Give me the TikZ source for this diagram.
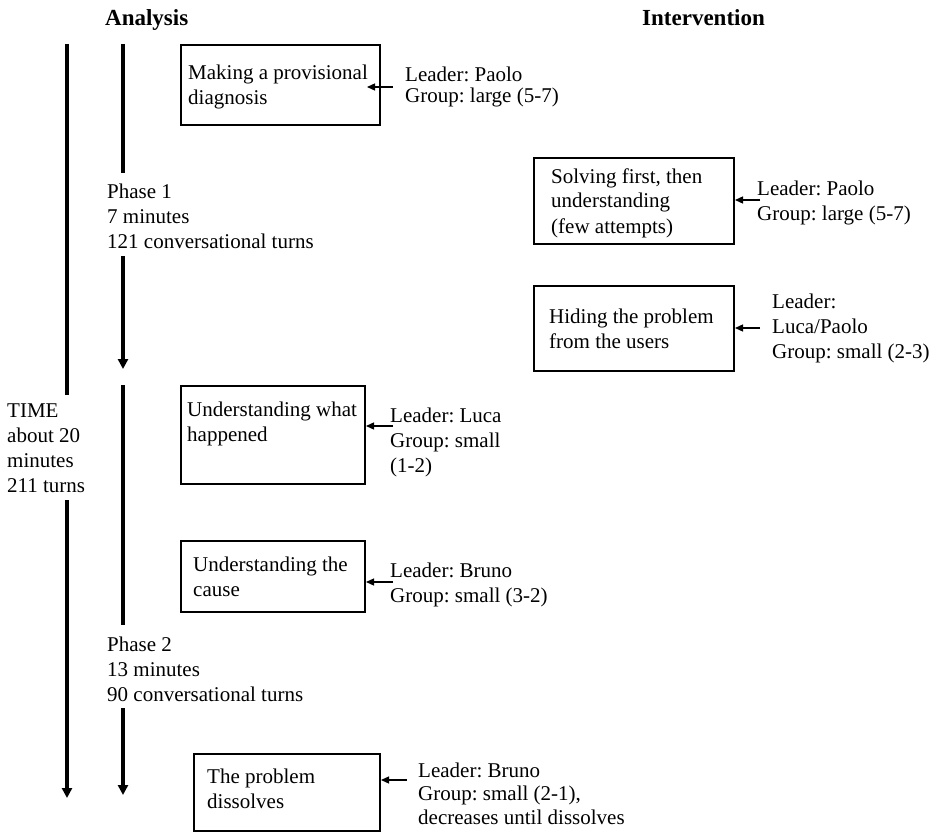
\documentclass[tikz,border=0pt]{standalone}
\usepackage{fontspec}
\setmainfont{Liberation Serif}
\usetikzlibrary{arrows.meta}
\frenchspacing
\begin{document}
\begin{tikzpicture}[x=1pt,y=-1pt,
  txt/.style={inner sep=0pt, align=left, anchor=base west, font=\fontsize{21}{25}\selectfont},
  head/.style={inner sep=0pt, anchor=base west, font=\fontsize{23}{27}\selectfont\bfseries},
  box/.style={draw, line width=2pt, inner sep=0pt, anchor=north west},
  vline/.style={line width=3.3pt},
  varrow/.style={line width=3.3pt, -{Triangle[length=10pt,width=10pt]}},
  harrow/.style={line width=1.3pt, -{Triangle[length=8pt,width=7pt]}}]
\useasboundingbox (0,0) rectangle (937,832);

% headings
\node[head] (ana) at (105,26) {Analysis};
\node[head] (int) at (642,26) {Intervention};

% boxes
\node[box, minimum width=199pt, minimum height=80pt] (b1) at (180,44) {};
\node[box, minimum width=200pt, minimum height=86pt] (b2) at (533,157) {};
\node[box, minimum width=200pt, minimum height=85pt] (b3) at (533,285) {};
\node[box, minimum width=184pt, minimum height=98pt] (b4) at (180,385) {};
\node[box, minimum width=184pt, minimum height=71pt] (b5) at (180,540) {};
\node[box, minimum width=186pt, minimum height=77pt] (b6) at (193,753) {};

% box texts (anchor = baseline of last line)
\node[txt] (t1) at (188,105) {Making a provisional\\diagnosis};
\node[txt] (t2) at (551,233) {Solving first, then\\understanding\\(few attempts)};
\node[txt] (t3) at (549,348) {Hiding the problem\\from the users};
\node[txt] (t4) at (187,441) {Understanding what\\happened};
\node[txt] (t5) at (193,596) {Understanding the\\cause};
\node[txt] (t6) at (207,808) {The problem\\dissolves};

% leader labels
\node[txt, font=\fontsize{21}{21}\selectfont] (l1) at (405,103) {Leader: Paolo\\Group: large (5-7)};
\node[txt] (l2) at (757,220) {Leader: Paolo\\Group: large (5-7)};
\node[txt] (l3) at (772,358) {Leader:\\Luca/Paolo\\Group: small (2-3)};
\node[txt] (l4) at (390,472) {Leader: Luca\\Group: small\\(1-2)};
\node[txt] (l5) at (390,602) {Leader: Bruno\\Group: small (3-2)};
\node[txt, font=\fontsize{21}{23.5}\selectfont] (l6) at (418,824) {Leader: Bruno\\Group: small (2-1),\\decreases until dissolves};

% phase and time texts
\node[txt] (ph1) at (107,248) {Phase 1\\7 minutes\\121 conversational turns};
\node[txt] (ph2) at (107,701) {Phase 2\\13 minutes\\90 conversational turns};
\node[txt] (time) at (7,492) {TIME\\about 20\\minutes\\211 turns};

% horizontal arrows
\coordinate (s1) at (393,87);
\coordinate (s2) at (760,200);
\coordinate (s3) at (760,328);
\coordinate (s4) at (393,426);
\coordinate (s5) at (393,582);
\coordinate (s6) at (407,780);
\draw[harrow] (s1) -- ([xshift=-14pt]b1.east |- s1);
\draw[harrow] (s2) -- (b2.east |- s2);
\draw[harrow] (s3) -- (b3.east |- s3);
\draw[harrow] (s4) -- (b4.east |- s4);
\draw[harrow] (s5) -- (b5.east |- s5);
\draw[harrow] (s6) -- (b6.east |- s6);

% time line (left)
\coordinate (ta) at (67,44);
\coordinate (tb) at (67,395);
\coordinate (tc) at (67,500);
\coordinate (td) at (67,798);
\draw[vline] (ta) -- (tb);
\draw[varrow] (tc) -- (td);

% analysis line
\coordinate (pa) at (123,44);
\coordinate (pb) at (123,173);
\coordinate (pc) at (123,256);
\coordinate (pd) at (123,369);
\coordinate (pe) at (123,385);
\coordinate (pf) at (123,625);
\coordinate (pg) at (123,708);
\coordinate (ph) at (123,795);
\draw[vline] (pa) -- (pb);
\draw[varrow] (pc) -- (pd);
\draw[vline] (pe) -- (pf);
\draw[varrow] (pg) -- (ph);
\end{tikzpicture}
\end{document}
